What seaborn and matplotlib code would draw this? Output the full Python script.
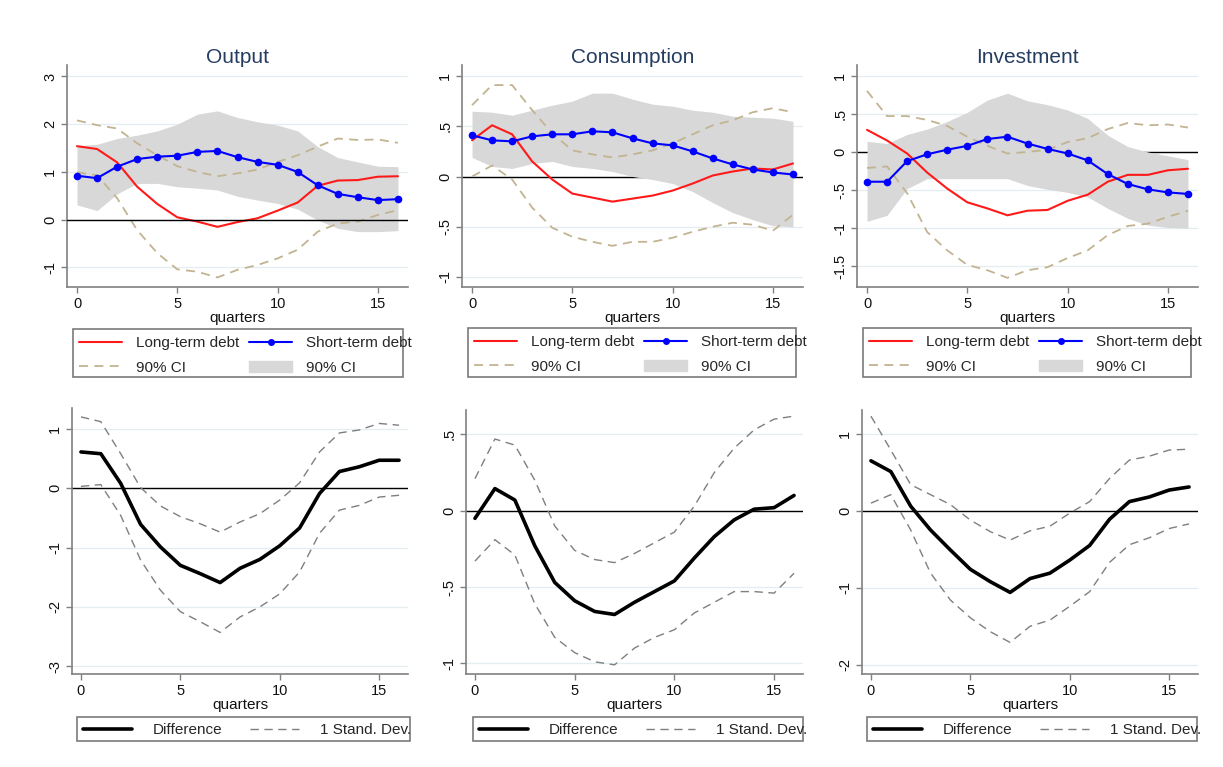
import numpy as np
import pandas as pd
import matplotlib
matplotlib.use("Agg")
import matplotlib.pyplot as plt
import seaborn as sns
from matplotlib.lines import Line2D
from matplotlib.patches import Patch, Rectangle

# ---------------- data ----------------
quarters = list(range(17))
titles = ["Output", "Consumption", "Investment"]

# Top row: Output
out_long = [1.54, 1.48, 1.20, 0.69, 0.33, 0.05, -0.04, -0.15, -0.05, 0.03, 0.19, 0.36, 0.71, 0.82, 0.83, 0.90, 0.91]
out_short = [0.92, 0.87, 1.11, 1.27, 1.32, 1.34, 1.42, 1.44, 1.31, 1.21, 1.15, 1.00, 0.72, 0.54, 0.47, 0.41, 0.43]
out_short_hi = [1.55, 1.58, 1.70, 1.77, 1.86, 2.00, 2.21, 2.28, 2.14, 2.05, 1.98, 1.86, 1.53, 1.30, 1.21, 1.12, 1.11]
out_short_lo = [0.31, 0.19, 0.54, 0.76, 0.76, 0.69, 0.66, 0.62, 0.49, 0.41, 0.34, 0.22, -0.01, -0.18, -0.25, -0.25, -0.23]
out_long_hi = [2.08, 1.98, 1.91, 1.60, 1.35, 1.12, 1.00, 0.91, 0.97, 1.05, 1.21, 1.35, 1.53, 1.70, 1.67, 1.68, 1.61]
out_long_lo = [0.99, 0.93, 0.45, -0.22, -0.70, -1.04, -1.09, -1.21, -1.05, -0.95, -0.81, -0.63, -0.25, -0.08, -0.04, 0.10, 0.20]

# Top row: Consumption
con_long = [0.36, 0.51, 0.42, 0.15, -0.03, -0.17, -0.21, -0.25, -0.22, -0.19, -0.14, -0.07, 0.01, 0.05, 0.08, 0.07, 0.13]
con_short = [0.41, 0.36, 0.35, 0.40, 0.42, 0.42, 0.45, 0.44, 0.38, 0.33, 0.31, 0.25, 0.18, 0.12, 0.07, 0.04, 0.02]
con_short_hi = [0.65, 0.64, 0.61, 0.66, 0.71, 0.75, 0.83, 0.83, 0.77, 0.72, 0.70, 0.66, 0.64, 0.60, 0.59, 0.58, 0.55]
con_short_lo = [0.19, 0.10, 0.08, 0.13, 0.15, 0.10, 0.08, 0.05, 0.00, -0.03, -0.07, -0.15, -0.26, -0.36, -0.43, -0.49, -0.50]
con_long_hi = [0.71, 0.91, 0.91, 0.66, 0.43, 0.26, 0.22, 0.19, 0.22, 0.26, 0.33, 0.42, 0.51, 0.56, 0.64, 0.68, 0.64]
con_long_lo = [0.00, 0.11, -0.03, -0.31, -0.51, -0.60, -0.65, -0.69, -0.65, -0.65, -0.61, -0.55, -0.50, -0.46, -0.48, -0.54, -0.38]

# Top row: Investment
inv_long = [0.29, 0.15, -0.02, -0.27, -0.48, -0.66, -0.74, -0.83, -0.77, -0.76, -0.64, -0.56, -0.39, -0.30, -0.30, -0.24, -0.22]
inv_short = [-0.39, -0.39, -0.12, -0.03, 0.03, 0.08, 0.17, 0.20, 0.11, 0.04, -0.02, -0.11, -0.29, -0.42, -0.49, -0.53, -0.55]
inv_short_hi = [0.14, 0.11, 0.23, 0.30, 0.40, 0.52, 0.68, 0.77, 0.67, 0.62, 0.55, 0.44, 0.22, 0.07, 0.00, -0.05, -0.10]
inv_short_lo = [-0.91, -0.83, -0.48, -0.35, -0.35, -0.35, -0.35, -0.35, -0.44, -0.49, -0.53, -0.59, -0.74, -0.87, -0.96, -0.99, -1.00]
inv_long_hi = [0.80, 0.47, 0.47, 0.42, 0.34, 0.20, 0.08, -0.02, 0.00, 0.03, 0.13, 0.18, 0.30, 0.38, 0.35, 0.36, 0.32]
inv_long_lo = [-0.21, -0.19, -0.54, -1.05, -1.29, -1.48, -1.55, -1.65, -1.55, -1.51, -1.39, -1.29, -1.09, -0.97, -0.94, -0.85, -0.77]

# Bottom row: differences and 1 s.d. bands
out_diff = [0.61, 0.58, 0.08, -0.61, -0.99, -1.30, -1.44, -1.59, -1.35, -1.20, -0.97, -0.67, -0.09, 0.28, 0.36, 0.47, 0.47]
out_diff_hi = [1.20, 1.12, 0.58, 0.01, -0.30, -0.48, -0.60, -0.74, -0.57, -0.43, -0.20, 0.09, 0.61, 0.93, 0.98, 1.09, 1.06]
out_diff_lo = [0.03, 0.06, -0.46, -1.21, -1.72, -2.08, -2.25, -2.43, -2.17, -2.00, -1.78, -1.41, -0.76, -0.37, -0.29, -0.15, -0.12]

con_diff = [-0.05, 0.145, 0.07, -0.23, -0.47, -0.59, -0.66, -0.68, -0.60, -0.53, -0.46, -0.31, -0.17, -0.06, 0.01, 0.02, 0.10]
con_diff_hi = [0.21, 0.47, 0.43, 0.20, -0.10, -0.26, -0.32, -0.34, -0.28, -0.21, -0.14, 0.03, 0.25, 0.41, 0.53, 0.60, 0.62]
con_diff_lo = [-0.33, -0.19, -0.29, -0.61, -0.83, -0.93, -0.99, -1.01, -0.90, -0.83, -0.78, -0.67, -0.60, -0.53, -0.53, -0.54, -0.41]

inv_diff = [0.65, 0.51, 0.06, -0.25, -0.51, -0.76, -0.92, -1.06, -0.88, -0.81, -0.64, -0.45, -0.11, 0.12, 0.18, 0.27, 0.31]
inv_diff_hi = [1.23, 0.79, 0.34, 0.21, 0.08, -0.12, -0.27, -0.38, -0.26, -0.20, -0.03, 0.12, 0.42, 0.66, 0.71, 0.79, 0.80]
inv_diff_lo = [0.10, 0.21, -0.25, -0.81, -1.16, -1.39, -1.57, -1.71, -1.50, -1.42, -1.24, -1.05, -0.67, -0.44, -0.35, -0.23, -0.17]

# tick values / labels
top_yticks = [[-1, 0, 1, 2, 3], [-1, -0.5, 0, 0.5, 1], [-1.5, -1, -0.5, 0, 0.5, 1]]
top_ylabels = [["-1", "0", "1", "2", "3"], ["-1", "-.5", "0", ".5", "1"], ["-1.5", "-1", "-.5", "0", ".5", "1"]]
bot_yticks = [[-3, -2, -1, 0, 1], [-1, -0.5, 0, 0.5], [-2, -1, 0, 1]]
bot_ylabels = [["-3", "-2", "-1", "0", "1"], ["-1", "-.5", "0", ".5"], ["-2", "-1", "0", "1"]]
xticks = [0, 5, 10, 15]
top_legend_labels = ["Long-term debt", "Short-term debt", "90% CI", "90% CI"]
bot_legend_labels = ["Difference", "1 Stand. Dev."]

# ---------------- styling ----------------
sns.set_theme(style="ticks")
plt.rcParams['font.family'] = ['Liberation Sans', 'DejaVu Sans']

W, H = 1223, 767
fig = plt.figure(figsize=(W / 100, H / 100), dpi=100)
fig.patch.set_facecolor("white")

def add_ax(l, t, r, b):
    return fig.add_axes([l / W, 1 - b / H, (r - l) / W, (b - t) / H])

def fig_box(l, t, r, b):
    fig.add_artist(Rectangle((l / W, 1 - b / H), (r - l) / W, (b - t) / H,
                             transform=fig.transFigure, fill=False,
                             edgecolor="#7a7a7a", lw=1.2))

RED = "#ff1a1a"
BLUE = "#0000ff"
TAN = "#c2b491"
FILL = "#d8d8d8"
AXC = "#808080"
TITLEC = "#263d62"
TXT = "#111111"

def style_ax(ax, ylim, yticks, ylabels, xlim):
    ax.set_xlim(*xlim)
    ax.set_ylim(*ylim)
    ax.set_xticks(xticks)
    ax.set_xticklabels([str(v) for v in xticks])
    ax.set_yticks(yticks)
    ax.set_yticklabels(ylabels, rotation=90, va="center")
    ax.set_axisbelow(True)
    ax.yaxis.grid(True, color="#e4eef0", lw=0.9)
    ax.xaxis.grid(False)
    for s in ["top", "right"]:
        ax.spines[s].set_visible(False)
    for s in ["left", "bottom"]:
        ax.spines[s].set_color(AXC)
        ax.spines[s].set_linewidth(1.2)
    ax.tick_params(direction="out", length=4, width=1, color=AXC, labelsize=10.5,
                   labelcolor=TXT, pad=3)
    ax.set_xlabel("quarters", fontsize=11, labelpad=0, color=TXT)
    ax.set_ylabel("")

top_pos = [(67, 65, 408, 287), (462, 65, 803, 287), (857, 65, 1198, 287)]
bot_pos = [(72, 408, 408, 674), (466, 410, 803, 674), (862, 410, 1198, 674)]
top_leg = [(73, 329, 403, 377), (468, 328, 796, 377), (863, 328, 1191, 377)]
bot_leg = [(77, 717, 410, 741), (473, 717, 803, 741), (867, 717, 1197, 741)]
top_ylims = [(-1.41, 3.24), (-1.10, 1.11), (-1.77, 1.14)]
bot_ylims = [(-3.13, 1.35), (-1.07, 0.66), (-2.12, 1.31)]
zero_on_top = [True, False, False]

top_data = [
    (out_long, out_short, out_short_hi, out_short_lo, out_long_hi, out_long_lo),
    (con_long, con_short, con_short_hi, con_short_lo, con_long_hi, con_long_lo),
    (inv_long, inv_short, inv_short_hi, inv_short_lo, inv_long_hi, inv_long_lo),
]
bot_data = [
    (out_diff, out_diff_hi, out_diff_lo),
    (con_diff, con_diff_hi, con_diff_lo),
    (inv_diff, inv_diff_hi, inv_diff_lo),
]

FS_LEG = 11
px_em = FS_LEG * 100 / 72.0  # pixels per em

for i in range(3):
    lng, sht, shi, slo, lhi, llo = top_data[i]
    df = pd.DataFrame({"q": quarters, "long": lng, "short": sht, "shi": shi,
                       "slo": slo, "lhi": lhi, "llo": llo})
    ax = add_ax(*top_pos[i])
    ax.fill_between(df["q"], df["slo"], df["shi"], color=FILL, lw=0, zorder=1)
    ax.axhline(0, color="black", lw=1, zorder=5 if zero_on_top[i] else 0.8)
    for col in ["lhi", "llo"]:
        sns.lineplot(data=df, x="q", y=col, ax=ax, color=TAN, lw=1.3,
                     linestyle=(0, (5, 3.5)), errorbar=None, zorder=3)
    sns.lineplot(data=df, x="q", y="long", ax=ax, color=RED, lw=1.5,
                 errorbar=None, zorder=4)
    sns.lineplot(data=df, x="q", y="short", ax=ax, color=BLUE, lw=1.5,
                 marker="o", markersize=5.5, markeredgecolor=BLUE,
                 markeredgewidth=0, errorbar=None, zorder=6)
    style_ax(ax, top_ylims[i], top_yticks[i], top_ylabels[i], (-0.5, 16.5))
    ax.set_title(titles[i], fontsize=15, color=TITLEC, y=1.0, pad=1.65)

    handles = [
        Line2D([], [], color=RED, lw=1.5),
        Line2D([], [], color=TAN, lw=1.3, linestyle=(0, (5, 3.5))),
        Line2D([], [], color=BLUE, lw=1.5, marker="o", markersize=4),
        Patch(facecolor=FILL, edgecolor=FILL),
    ]
    labels = [top_legend_labels[0], top_legend_labels[2],
              top_legend_labels[1], top_legend_labels[3]]
    l, t, r, b = top_leg[i]
    fig_box(l, t, r, b)
    fig.legend(handles, labels, loc="upper left", ncol=2,
               bbox_to_anchor=((l + 6) / W, 1 - (t + 7) / H),
               bbox_transform=fig.transFigure, fontsize=FS_LEG, frameon=False,
               handlelength=43 / px_em, handletextpad=14 / px_em,
               labelspacing=0.7, borderpad=0, columnspacing=10 / px_em,
               borderaxespad=0)

for i in range(3):
    d, hi, lo = bot_data[i]
    df = pd.DataFrame({"q": quarters, "d": d, "hi": hi, "lo": lo})
    ax = add_ax(*bot_pos[i])
    ax.axhline(0, color="black", lw=1, zorder=2)
    for col in ["hi", "lo"]:
        sns.lineplot(data=df, x="q", y=col, ax=ax, color="#7f7f7f", lw=1.0,
                     linestyle=(0, (6, 4)), errorbar=None, zorder=3)
    sns.lineplot(data=df, x="q", y="d", ax=ax, color="black", lw=2.6,
                 errorbar=None, zorder=4)
    style_ax(ax, bot_ylims[i], bot_yticks[i], bot_ylabels[i], (-0.45, 16.45))

    handles = [Line2D([], [], color="black", lw=2.6),
               Line2D([], [], color="#7f7f7f", lw=1.0, linestyle=(0, (6, 4)))]
    l, t, r, b = bot_leg[i]
    fig_box(l, t, r, b)
    fig.legend(handles, bot_legend_labels, loc="center left", ncol=2,
               bbox_to_anchor=((l + 6) / W, 1 - ((t + b) / 2 + 1) / H),
               bbox_transform=fig.transFigure, fontsize=FS_LEG, frameon=False,
               handlelength=49 / px_em, handletextpad=21 / px_em,
               labelspacing=0.3, borderpad=0, columnspacing=27 / px_em,
               borderaxespad=0)

fig.savefig("out.png", dpi=100, facecolor="white")
